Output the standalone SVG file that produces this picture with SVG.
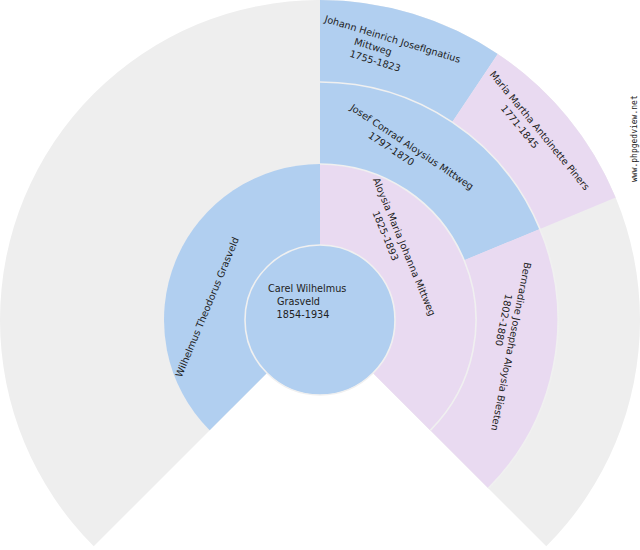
<svg xmlns="http://www.w3.org/2000/svg" width="640" height="550" viewBox="0 0 640 550">
<style>
.m{fill:#b1cff0}
.f{fill:#e9daf1}
.u{fill:#eeeeee}
.sep{fill:none;stroke:#f0f0f0;stroke-width:1.6}
text{font-family:"DejaVu Sans","Liberation Sans",sans-serif;font-size:9.7px;fill:#222}
.wm{font-family:"DejaVu Sans Mono","Liberation Mono",monospace;font-size:8px;fill:#222}
</style>
<rect x="0" y="0" width="640" height="550" fill="#ffffff"/>
<g id="background">
<path class="u" d="M320,320 L93.73,546.27 A320,320 0 1 1 546.27,546.27 Z"/>
</g>
<g id="gen3">
<g id="johann">
<path class="m" d="M320,320 L320,0 A320,320 0 0 1 497.78,53.93 Z"/>
</g>
<g id="maria">
<path class="f" d="M320,320 L497.78,53.93 A320,320 0 0 1 615.64,197.54 Z"/>
</g>
</g>
<g id="gen2">
<g id="josef">
<path class="m" d="M320,320 L320,82 A238,238 0 0 1 539.88,228.92 Z"/>
</g>
<g id="bernradine">
<path class="f" d="M320,320 L539.88,228.92 A238,238 0 0 1 488.29,488.29 Z"/>
</g>
</g>
<g id="gen1">
<g id="wilhelmus">
<path class="m" d="M320,320 L209.69,430.31 A156,156 0 0 1 320,164 Z"/>
</g>
<g id="aloysia">
<path class="f" d="M320,320 L320,164 A156,156 0 0 1 430.31,430.31 Z"/>
</g>
</g>
<g id="connectors">
<path class="sep" d="M320,82 A238,238 0 0 1 488.29,488.29"/>
<path class="sep" d="M320,164 A156,156 0 0 1 430.31,430.31"/>
</g>
<g id="carel">
<circle cx="320" cy="320" r="75" class="m" stroke="#f0f0f0" stroke-width="1.6"/>
<text x="268" y="292">Carel Wilhelmus</text>
<text x="277" y="305">Grasveld</text>
<text x="276.6" y="318">1854-1934</text>
</g>
<g id="labels">
<g id="t-wilhelmus" transform="translate(181.5,378) rotate(-67.5)">
<text x="0" y="0">Wilhelmus Theodorus Grasveld</text>
</g>
<g id="t-aloysia" transform="translate(372.7,179.5) rotate(67.5)">
<text x="0" y="0">Aloysia Maria Johanna Mittweg</text>
<text x="30.5" y="13">1825-1893</text>
</g>
<g id="t-josef" transform="translate(349.4,109.2) rotate(33.75)">
<text x="0" y="0">Josef Conrad Aloysius Mittweg</text>
<text x="30.4" y="13">1797-1870</text>
</g>
<g id="t-bernradine" transform="translate(524.6,261.7) rotate(101.25)">
<text x="0" y="0">Bernradine Josepha Aloysia Biesten</text>
<text x="35" y="12.5">1802-1880</text>
</g>
<g id="t-johann" transform="translate(323.9,21.8) rotate(16.875)">
<text x="0" y="0">Johann Heinrich JosefIgnatius</text>
<text x="35" y="13">Mittweg</text>
<text x="34" y="26">1755-1823</text>
</g>
<g id="t-maria" transform="translate(489.3,74.5) rotate(50.625)">
<text x="0" y="0">Maria Martha Antoinette Piners</text>
<text x="33.2" y="13">1771-1845</text>
</g>
</g>
<text class="wm" transform="translate(637,182) rotate(-90)">www.phpgedview.net</text>
</svg>
